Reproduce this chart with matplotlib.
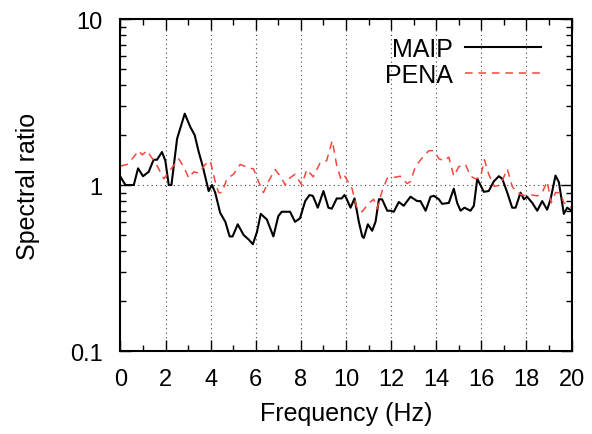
import matplotlib
matplotlib.use("Agg")
import matplotlib.pyplot as plt
from matplotlib.ticker import FixedLocator, LogLocator, NullFormatter, MultipleLocator

plt.rcParams['font.family'] = ['Liberation Sans', 'DejaVu Sans']

# spectral ratio curves
maip_freq = [0.0, 0.22, 0.59, 0.78, 1.0, 1.25, 1.47, 1.62, 1.84, 1.99, 2.14, 2.26, 2.51, 2.85,
             3.1, 3.29, 3.47, 3.64, 3.91, 4.06, 4.2, 4.42, 4.65, 4.84, 4.97, 5.2, 5.46, 5.68,
             5.87, 6.05, 6.22, 6.49, 6.78, 7.0, 7.15, 7.52, 7.74, 7.96, 8.19, 8.38, 8.53, 8.75,
             9.0, 9.22, 9.37, 9.59, 9.81, 9.93, 10.02, 10.2, 10.38, 10.57, 10.72, 10.79, 10.97,
             11.16, 11.31, 11.46, 11.6, 11.83, 11.97, 12.12, 12.34, 12.56, 12.86, 13.16, 13.3,
             13.53, 13.75, 13.9, 14.12, 14.26, 14.56, 14.78, 14.93, 15.08, 15.25, 15.52, 15.67,
             15.82, 15.96, 16.11, 16.33, 16.55, 16.78, 16.93, 17.15, 17.37, 17.52, 17.74, 17.89,
             18.03, 18.26, 18.48, 18.7, 18.92, 19.07, 19.29, 19.44, 19.66, 19.81, 20.0]
maip_ratio = [1.12, 1.0, 1.0, 1.26, 1.13, 1.2, 1.42, 1.42, 1.58, 1.4, 1.0, 1.0, 1.9, 2.69,
              2.23, 2.0, 1.58, 1.31, 0.92, 1.0, 0.9, 0.68, 0.6, 0.49, 0.49, 0.58, 0.5, 0.47,
              0.44, 0.52, 0.67, 0.62, 0.49, 0.65, 0.69, 0.69, 0.6, 0.63, 0.8, 0.87, 0.86, 0.73,
              0.92, 0.73, 0.72, 0.83, 0.83, 0.87, 0.83, 0.73, 0.83, 0.6, 0.49, 0.48, 0.58,
              0.53, 0.6, 0.82, 0.82, 0.7, 0.7, 0.69, 0.79, 0.75, 0.85, 0.8, 0.8,
              0.7, 0.85, 0.86, 0.82, 0.77, 0.78, 0.95, 0.78, 0.7, 0.73, 0.7, 0.75,
              1.09, 1.0, 0.91, 0.92, 1.05, 1.13, 1.09, 0.9, 0.73, 0.73, 0.9, 0.82,
              0.85, 0.78, 0.7, 0.8, 0.71, 0.82, 1.14, 1.04, 0.67, 0.73, 0.7]

pena_freq = [0.0, 0.29, 0.52, 0.81, 0.96, 1.18, 1.37, 1.62, 1.92, 2.14, 2.36, 2.58, 2.8, 3.03,
             3.25, 3.47, 3.76, 3.98, 4.2, 4.35, 4.5, 4.72, 5.01, 5.31, 5.68, 5.9, 6.12, 6.34,
             6.56, 6.86, 7.15, 7.3, 7.45, 7.74, 8.04, 8.26, 8.55, 8.85, 9.14, 9.39, 9.59, 9.76,
             9.9, 10.27, 10.49, 10.72, 11.01, 11.23, 11.38, 11.6, 11.83, 12.12, 12.41, 12.71,
             12.86, 13.08, 13.45, 13.68, 13.9, 14.12, 14.34, 14.56, 14.78, 15.0, 15.3, 15.52,
             15.74, 15.96, 16.14, 16.33, 16.58, 16.85, 17.15, 17.37, 17.59, 17.81, 18.03, 18.26,
             18.48, 18.7, 18.92, 19.1, 19.29, 19.51, 19.66, 19.81, 20.0]
pena_ratio = [1.3, 1.33, 1.44, 1.61, 1.52, 1.61, 1.47, 1.31, 1.09, 1.2, 1.31, 1.44, 1.29, 1.1,
              1.2, 1.18, 1.33, 1.4, 1.05, 0.9, 0.9, 1.09, 1.16, 1.33, 1.27, 1.25, 1.05, 0.9,
              1.05, 1.24, 1.1, 1.0, 1.09, 1.16, 1.0, 1.24, 1.12, 1.36, 1.4, 1.85, 1.31, 1.1,
              1.16, 0.95, 0.72, 0.69, 0.78, 0.82, 0.72, 0.92, 1.1, 1.11, 1.13, 1.02,
              1.05, 1.29, 1.5, 1.61, 1.61, 1.44, 1.4, 1.47, 1.13, 1.29, 1.33, 1.13,
              1.09, 1.11, 1.42, 1.16, 0.98, 1.0, 1.25, 0.98, 0.9, 0.87, 0.86, 0.87,
              0.86, 0.9, 1.05, 0.78, 0.9, 0.9, 0.78, 0.77, 0.73]

x_ticks = list(range(0, 21, 2))
y_ticks = [0.1, 1, 10]
y_tick_labels = ['0.1', '1', '10']

fig = plt.figure(figsize=(5.92, 4.35), dpi=100)
ax = fig.add_axes([0.2035, 0.1908, 0.7619, 0.7632])

ax.plot(maip_freq, maip_ratio, color='black', lw=1.5, label='MAIP')
ax.plot(pena_freq, pena_ratio, color='#f5473c', lw=1.1, dashes=(5.0, 3.8), label='PENA')

ax.set_yscale('log')
ax.set_xlim(0, 20)
ax.set_ylim(0.1, 10)

ax.xaxis.set_major_locator(FixedLocator(x_ticks))
ax.xaxis.set_minor_locator(MultipleLocator(1))
ax.yaxis.set_major_locator(FixedLocator(y_ticks))
ax.set_yticklabels(y_tick_labels)
ax.yaxis.set_minor_locator(LogLocator(base=10, subs=range(2, 10)))
ax.yaxis.set_minor_formatter(NullFormatter())

ax.tick_params(which='both', direction='in', top=True, right=True, width=1.0, labelsize=17)
ax.tick_params(axis='x', which='major', length=8, pad=12)
ax.tick_params(axis='y', which='major', length=8, pad=13)
ax.tick_params(which='minor', length=4.5)

# gnuplot-like dotted grid on the major ticks
ax.grid(True, which='major', color='#444444', lw=0.8, linestyle=(0, (1, 3)))

for s in ax.spines.values():
    s.set_linewidth(1.5)

ax.set_xlabel('Frequency (Hz)', fontsize=18, labelpad=8)
ax.set_ylabel('Spectral ratio', fontsize=18, labelpad=21)

ax.legend(loc='upper right', frameon=False, markerfirst=False, fontsize=18,
          handlelength=3.05, handletextpad=0.45, labelspacing=0.07,
          borderaxespad=0, borderpad=0, bbox_to_anchor=(0.932, 0.946))

fig.savefig('out.png', dpi=100)
